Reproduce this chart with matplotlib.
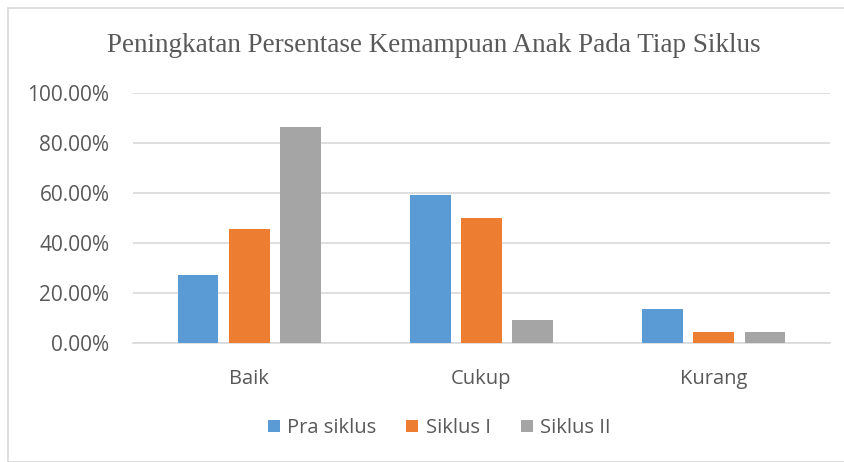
import matplotlib
matplotlib.use("Agg")
import matplotlib.pyplot as plt
import numpy as np
from matplotlib.patches import Rectangle
from matplotlib.ticker import FuncFormatter

categories = ["Baik", "Cukup", "Kurang"]
series_names = ["Pra siklus", "Siklus I", "Siklus II"]
pra_siklus = [27.27, 59.09, 13.64]
siklus_1 = [45.45, 50.00, 4.55]
siklus_2 = [86.36, 9.09, 4.55]
yticks = [0, 20, 40, 60, 80, 100]
colors = ["#5B9BD5", "#ED7D31", "#A5A5A5"]
title = "Peningkatan Persentase Kemampuan Anak Pada Tiap Siklus"

txt = "#595959"
fig = plt.figure(figsize=(8.45, 4.62), dpi=100)
ax = fig.add_axes([133/845, 1-343/462, (830-133)/845, 250/462])

x = np.arange(len(categories))
w = 0.176
off = 0.22
for i, (vals, name) in enumerate(zip([pra_siklus, siklus_1, siklus_2], series_names)):
    ax.bar(x + (i-1)*off, vals, w, color=colors[i], label=name, zorder=3)

ax.set_xlim(-0.5, 2.5)
ax.set_ylim(0, 100)
ax.set_yticks(yticks)
ax.yaxis.set_major_formatter(FuncFormatter(lambda v, p: f"{v:.2f}%"))
ax.set_xticks(x)
ax.set_xticklabels(categories)
ax.grid(axis="y", color="#D9D9D9", linewidth=1.2, zorder=0)
for s in ["top", "right", "left"]:
    ax.spines[s].set_visible(False)
ax.spines["bottom"].set_color("#D9D9D9")
ax.spines["bottom"].set_linewidth(1.2)
ax.tick_params(axis="both", length=0, colors=txt)
ax.tick_params(axis="y", pad=17, labelsize=15)
ax.tick_params(axis="x", pad=19, labelsize=14.5)
for lab in ax.get_xticklabels() + ax.get_yticklabels():
    lab.set_family("Open Sans")

fig.text(434/845, 1-46/462, title, ha="center", va="center", fontsize=19.5,
         family="Liberation Serif", color=txt)

leg = fig.legend(loc="center", bbox_to_anchor=(439/845, 1-428/462), ncol=3, frameon=False,
                 prop={"family": "Open Sans", "size": 14.5}, handlelength=0.6, handleheight=0.6,
                 columnspacing=1.5, handletextpad=0.35)
for t in leg.get_texts():
    t.set_color(txt)

fig.patches.append(Rectangle((8/845, 0), 1, 1-8/462, transform=fig.transFigure,
                             fill=False, edgecolor="#D9D9D9", linewidth=1.2))

fig.savefig("out.png", dpi=100)
